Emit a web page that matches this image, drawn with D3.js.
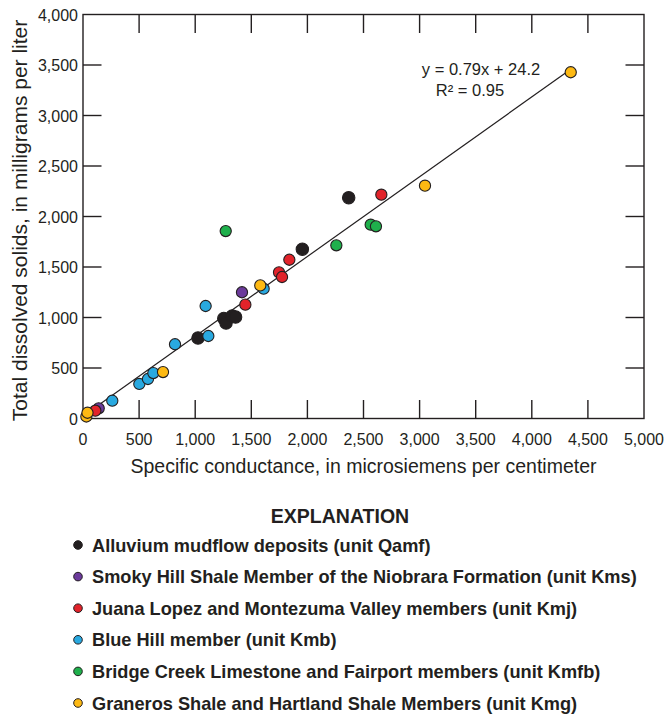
<!DOCTYPE html>
<html>
<head>
<meta charset="utf-8">
<script src="https://cdn.jsdelivr.net/npm/d3@7.9.0/dist/d3.min.js"></script>
<style>
  body { margin: 0; background: #fff; }
  svg { display: block; font-family: "Liberation Sans", Arial, sans-serif; }
</style>
</head>
<body>
<svg id="chart" width="665" height="717"></svg>
<script>
// units shown in the explanation, in legend order
const units = [
  "Alluvium mudflow deposits (unit Qamf)",
  "Smoky Hill Shale Member of the Niobrara Formation (unit Kms)",
  "Juana Lopez and Montezuma Valley members (unit Kmj)",
  "Blue Hill member (unit Kmb)",
  "Bridge Creek Limestone and Fairport members (unit Kmfb)",
  "Graneros Shale and Hartland Shale Members (unit Kmg)"
];
const unitColors = ["#231f20", "#6b3a9b", "#e2232a", "#29a9e0", "#1fb04c", "#fdb913"];

// [specific conductance, total dissolved solids]
const qamf = [[1025, 797], [1255, 990], [1275, 945], [1330, 1015], [1360, 1005], [1955, 1676], [2368, 2186]];
const kms  = [[140, 101], [1417, 1250]];
const kmj  = [[110, 77], [1447, 1127], [1747, 1447], [1774, 1401], [1839, 1572], [2659, 2216]];
const kmb  = [[261, 176], [502, 342], [579, 391], [627, 450], [820, 735], [1093, 1114], [1117, 817], [1610, 1285]];
const kmfb = [[1272, 1856], [2258, 1715], [2564, 1919], [2611, 1903]];
const kmg  = [[30, 20], [40, 57], [713, 460], [1580, 1318], [3048, 2305], [4347, 3428]];
const series = [qamf, kms, kmj, kmb, kmfb, kmg];

const xTicks = [0, 500, 1000, 1500, 2000, 2500, 3000, 3500, 4000, 4500, 5000];
const yTicks = [0, 500, 1000, 1500, 2000, 2500, 3000, 3500, 4000];

// regression: y = 0.79x + 24.2, drawn across the data range
const slope = 0.79, intercept = 24.2;
const fitRange = [30, 4347];

const svg = d3.select("#chart");
const pLeft = 83, pTop = 14.5, pRight = 644, pBottom = 418.5;
const ink = "#231f20";

const x = d3.scaleLinear().domain([0, 5000]).range([pLeft, pRight]);
const y = d3.scaleLinear().domain([0, 4000]).range([pBottom, pTop]);
const fmt = d3.format(",");
const tickLen = 18.5;

// frame
svg.append("rect")
  .attr("x", pLeft).attr("y", pTop)
  .attr("width", pRight - pLeft).attr("height", pBottom - pTop)
  .attr("fill", "none").attr("stroke", ink).attr("stroke-width", 1.4);

// inward ticks on all four sides
const innerX = xTicks.slice(1, -1), innerY = yTicks.slice(1, -1);
const tickG = svg.append("g").attr("stroke", ink).attr("stroke-width", 1.4);
innerX.forEach(t => {
  tickG.append("line").attr("x1", x(t)).attr("x2", x(t)).attr("y1", pBottom).attr("y2", pBottom - tickLen);
  tickG.append("line").attr("x1", x(t)).attr("x2", x(t)).attr("y1", pTop).attr("y2", pTop + tickLen);
});
innerY.forEach(t => {
  tickG.append("line").attr("y1", y(t)).attr("y2", y(t)).attr("x1", pLeft).attr("x2", pLeft + tickLen);
  tickG.append("line").attr("y1", y(t)).attr("y2", y(t)).attr("x1", pRight).attr("x2", pRight - tickLen);
});

// tick labels
svg.append("g").selectAll("text").data(xTicks).join("text")
  .attr("x", d => x(d)).attr("y", pBottom + 26)
  .attr("text-anchor", "middle").attr("font-size", 16).attr("fill", ink)
  .text(d => fmt(d));
svg.append("g").selectAll("text").data(yTicks).join("text")
  .attr("x", pLeft - 5).attr("y", d => y(d) + 6)
  .attr("text-anchor", "end").attr("font-size", 16).attr("fill", ink)
  .text(d => fmt(d));

// axis titles
svg.append("text")
  .attr("x", (pLeft + pRight) / 2).attr("y", 473)
  .attr("text-anchor", "middle").attr("font-size", 19.5).attr("fill", ink)
  .text("Specific conductance, in microsiemens per centimeter");
svg.append("text")
  .attr("transform", `translate(27,${(pTop + pBottom) / 2 + 4}) rotate(-90)`)
  .attr("text-anchor", "middle").attr("font-size", 21).attr("fill", ink)
  .text("Total dissolved solids, in milligrams per liter");

// regression line
svg.append("line")
  .attr("x1", x(fitRange[0])).attr("y1", y(slope * fitRange[0] + intercept))
  .attr("x2", x(fitRange[1])).attr("y2", y(slope * fitRange[1] + intercept))
  .attr("stroke", ink).attr("stroke-width", 1.2);

svg.append("text")
  .attr("x", x(3020)).attr("y", y(3400))
  .attr("font-size", 16.5).attr("fill", ink)
  .text("y = 0.79x + 24.2");
svg.append("text")
  .attr("x", x(3145)).attr("y", y(3190))
  .attr("font-size", 16.5).attr("fill", ink)
  .text("R² = 0.95");

// points
series.forEach((pts, i) => {
  svg.append("g").selectAll("circle").data(pts).join("circle")
    .attr("cx", d => x(d[0])).attr("cy", d => y(d[1]))
    .attr("r", i === 0 ? 6.2 : 5.6)
    .attr("fill", unitColors[i])
    .attr("stroke", ink).attr("stroke-width", 1.1);
});

// explanation
svg.append("text")
  .attr("x", 340).attr("y", 523)
  .attr("text-anchor", "middle").attr("font-size", 19.5).attr("font-weight", "bold").attr("fill", ink)
  .text("EXPLANATION");

const legend = svg.append("g").selectAll("g").data(units).join("g")
  .attr("transform", (d, i) => `translate(78,${545 + i * 31.6})`);
legend.append("circle")
  .attr("r", 4.3)
  .attr("fill", (d, i) => unitColors[i])
  .attr("stroke", ink).attr("stroke-width", 1);
legend.append("text")
  .attr("x", 14).attr("y", 6.5)
  .attr("font-size", 18.2).attr("font-weight", "bold").attr("fill", ink)
  .text(d => d);
</script>
</body>
</html>
